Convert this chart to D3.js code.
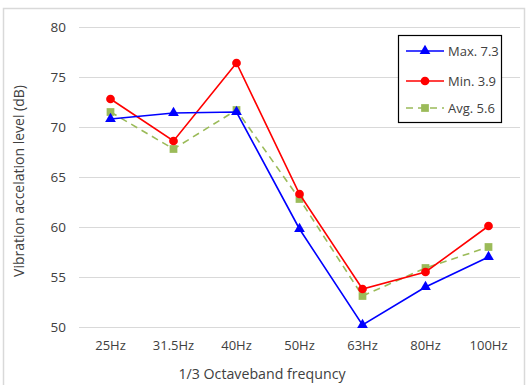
<!DOCTYPE html>
<html>
<head>
<meta charset="utf-8">
<script src="https://cdn.jsdelivr.net/npm/d3@7"></script>
<style>
  body { margin: 0; background: #fff; }
  text { font-family: "Open Sans", sans-serif; fill: #404040; }
</style>
</head>
<body>
<div class="canva"></div>
<script>
// data
var categories = ["25Hz", "31.5Hz", "40Hz", "50Hz", "63Hz", "80Hz", "100Hz"];
var maxValues = [70.8, 71.4, 71.5, 59.8, 50.2, 54.0, 57.0];
var minValues = [72.8, 68.6, 76.4, 63.3, 53.8, 55.5, 60.1];
var avgValues = [71.5, 67.8, 71.7, 62.8, 53.1, 55.9, 58.0];
var yTicks = [50, 55, 60, 65, 70, 75, 80];
var seriesNames = ["Max. 7.3", "Min. 3.9", "Avg. 5.6"];

var W = 529, H = 385;
var margin = {top: 27, right: 9, bottom: 58, left: 79},
    width = W - margin.left - margin.right,
    height = H - margin.top - margin.bottom;

var svg = d3.select(".canva").append("svg")
  .attr("width", W).attr("height", H);

// outer chart border
svg.append("rect")
  .attr("x", 3.5).attr("y", 8.5)
  .attr("width", 521).attr("height", 385)
  .attr("fill", "none").attr("stroke", "#d9d9d9").attr("stroke-width", 1.5);

var g = svg.append("g")
  .attr("transform", "translate(" + margin.left + "," + margin.top + ")");

var x = d3.scaleBand().domain(categories).range([0, width]);
var y = d3.scaleLinear().domain([50, 80]).range([height, 0]);

// gridlines + y labels
var yAxis = g.append("g")
  .call(d3.axisLeft(y).tickValues(yTicks).tickSize(-width).tickPadding(13));
yAxis.select(".domain").remove();
yAxis.selectAll(".tick line").attr("stroke", "#d9d9d9").attr("stroke-width", 1.2);
yAxis.selectAll(".tick text").attr("font-size", "13.5px").attr("fill", "#404040")
  .style("font-family", "Open Sans, sans-serif");

// x labels
var xAxis = g.append("g")
  .attr("transform", "translate(0," + height + ")")
  .call(d3.axisBottom(x).tickSize(0).tickPadding(14));
xAxis.select(".domain").remove();
xAxis.selectAll(".tick text").attr("font-size", "13px").attr("fill", "#404040")
  .style("font-family", "Open Sans, sans-serif");

// axis titles
svg.append("text")
  .attr("x", 262).attr("y", 379)
  .attr("text-anchor", "middle")
  .attr("font-size", "14.2px")
  .text("1/3 Octaveband frequncy");

svg.append("text")
  .attr("transform", "translate(24,181)rotate(-90)")
  .attr("text-anchor", "middle")
  .attr("font-size", "14px")
  .text("Vibration accelation level (dB)");

var series = [
  {name: seriesNames[0], values: maxValues, color: "#0000ff", dash: null, shape: d3.symbolTriangle, size: 50},
  {name: seriesNames[1], values: minValues, color: "#ff0000", dash: null, shape: d3.symbolCircle, size: 60},
  {name: seriesNames[2], values: avgValues, color: "#9bbb59", dash: "7,5", shape: d3.symbolSquare, size: 60}
];

var line = d3.line()
  .x(function(d, i) { return x(categories[i]) + x.bandwidth() / 2; })
  .y(function(d) { return y(d); });

// draw avg first, then min, then max on top
[series[2], series[1], series[0]].forEach(function(s) {
  g.append("path")
    .datum(s.values)
    .attr("d", line)
    .attr("fill", "none")
    .attr("stroke", s.color)
    .attr("stroke-width", 1.6)
    .attr("stroke-dasharray", s.dash);
  g.selectAll(null)
    .data(s.values)
    .enter()
    .append("path")
    .attr("d", d3.symbol().type(s.shape).size(s.size))
    .attr("transform", function(d, i) {
      return "translate(" + (x(categories[i]) + x.bandwidth() / 2) + "," + y(d) + ")";
    })
    .attr("fill", s.color);
});

// legend
var leg = svg.append("g").attr("transform", "translate(398,35)");
leg.append("rect")
  .attr("x", 0.5).attr("y", 0.5).attr("width", 103).attr("height", 87)
  .attr("fill", "#fff").attr("stroke", "#000").attr("stroke-width", 1.2);
var legY = [16, 46, 73];
series.forEach(function(s, i) {
  leg.append("line")
    .attr("x1", 8).attr("x2", 46).attr("y1", legY[i]).attr("y2", legY[i])
    .attr("stroke", s.color).attr("stroke-width", 1.6)
    .attr("stroke-dasharray", s.dash);
  leg.append("path")
    .attr("d", d3.symbol().type(s.shape).size(s.size))
    .attr("transform", "translate(27," + legY[i] + ")")
    .attr("fill", s.color);
  leg.append("text")
    .attr("x", 50).attr("y", legY[i] + 5)
    .attr("font-size", "13px")
    .attr("fill", "#000")
    .text(s.name);
});
</script>
</body>
</html>
